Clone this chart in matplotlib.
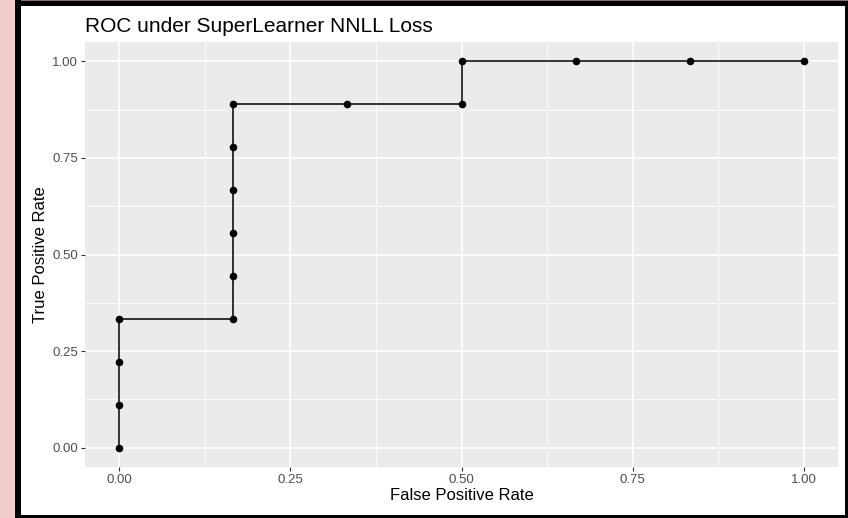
import matplotlib
matplotlib.use("Agg")
import matplotlib.pyplot as plt
from matplotlib.patches import Rectangle

fpr = [0, 0, 0, 0, 1/6, 1/6, 1/6, 1/6, 1/6, 1/6, 1/3, 1/2, 1/2, 2/3, 5/6, 1]
tpr = [0, 1/9, 2/9, 3/9, 3/9, 4/9, 5/9, 6/9, 7/9, 8/9, 8/9, 8/9, 1, 1, 1, 1]
ticks = [0.0, 0.25, 0.5, 0.75, 1.0]
tick_labels = ["0.00", "0.25", "0.50", "0.75", "1.00"]
minor = [0.125, 0.375, 0.625, 0.875]

plt.rcParams['font.family'] = ['Liberation Sans', 'DejaVu Sans']

W, H = 848, 518
fig = plt.figure(figsize=(W/100, H/100), dpi=100)
fig.patch.set_facecolor("white")

def px_rect(x0, y0, x1, y1, color):
    # pixel coords with y from top
    fig.add_artist(Rectangle((x0/W, 1 - y1/H), (x1-x0)/W, (y1-y0)/H,
                             transform=fig.transFigure, facecolor=color, edgecolor="none"))

# pink strip and black frame
px_rect(0, 0, 15, H, "#f2cccc")
px_rect(15, 0, W, 1, "#8a7070")
px_rect(15, 1, W, 6, "black")
px_rect(15, 0, 21, H, "black")
px_rect(845, 1, W, H, "black")
px_rect(15, 515, W, H, "black")

ax = fig.add_axes([85/W, (H-467)/H, (838-85)/W, (467-42)/H])
ax.set_facecolor("#EBEBEB")
for s in ax.spines.values():
    s.set_visible(False)
ax.set_xlim(-0.05, 1.05)
ax.set_ylim(-0.05, 1.05)
for m in minor:
    ax.axvline(m, color="white", lw=0.6, zorder=0.5)
    ax.axhline(m, color="white", lw=0.6, zorder=0.5)
for t in ticks:
    ax.axvline(t, color="white", lw=1.2, zorder=0.6)
    ax.axhline(t, color="white", lw=1.2, zorder=0.6)
ax.set_xticks(ticks)
ax.set_xticklabels(tick_labels)
ax.set_yticks(ticks)
ax.set_yticklabels(tick_labels)
ax.tick_params(axis="both", colors="#333333", labelcolor="#4d4d4d", labelsize=9.5, length=3.2, width=0.8, pad=2)

ax.plot(fpr, tpr, color="black", lw=1.1, zorder=2)
ax.scatter(fpr, tpr, color="black", s=20, zorder=3)

ax.set_xlabel("False Positive Rate", fontsize=12, labelpad=1)
ax.set_ylabel("True Positive Rate", fontsize=12, labelpad=3)
fig.text(85/W, 1 - 26/H, "ROC under SuperLearner NNLL Loss", fontsize=15, va="center", ha="left")

fig.savefig("out.png", dpi=100)
